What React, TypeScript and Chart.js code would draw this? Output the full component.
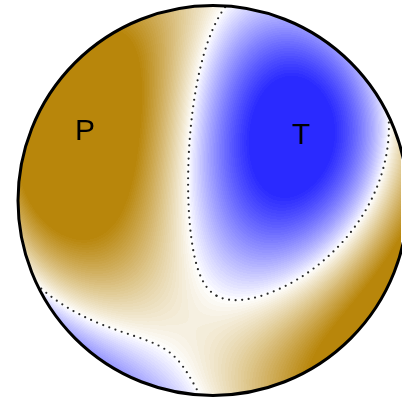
import React, { useEffect, useRef } from "react";
import { Chart, registerables } from "chart.js";

Chart.register(...registerables);

// Principal axes of the moment tensor, lower hemisphere (degrees)
const axisNames = ["T", "N", "P"];
const axisAzimuth = [51.0, 189.5, 296.7];
const axisPlunge = [46.3, 35.6, 22.5];
const eigenValues = [1.0, -0.086, -1.32];
const labelledAxes = ["P", "T"];

// Colour ramp end points: tension (positive) and pressure (negative)
const tensionRGB = [42, 42, 255];
const pressureRGB = [184, 134, 11];
const colourLimit = 0.8; // |amplitude| at which the ramp saturates
const colourGamma = 0.9;
const colourLevels = 40;

// Net geometry on the 402 px canvas
const SIZE = 402;
const CENTER_X = 213;
const CENTER_Y = 200.5;
const RADIUS = 196;
const DOT_SPACING = 6.6 / RADIUS;

type V3 = [number, number, number];

const dot = (a: V3, b: V3) => a[0] * b[0] + a[1] * b[1] + a[2] * b[2];
const norm = (a: V3): V3 => {
  const l = Math.hypot(a[0], a[1], a[2]);
  return [a[0] / l, a[1] / l, a[2] / l];
};
const cross = (a: V3, b: V3): V3 => [
  a[1] * b[2] - a[2] * b[1],
  a[2] * b[0] - a[0] * b[2],
  a[0] * b[1] - a[1] * b[0],
];

// (north, east, down) unit vector from azimuth / plunge
function axisVector(az: number, pl: number): V3 {
  const a = (az * Math.PI) / 180;
  const p = (pl * Math.PI) / 180;
  return [Math.cos(p) * Math.cos(a), Math.cos(p) * Math.sin(a), Math.sin(p)];
}

const iT = axisNames.indexOf("T");
const iN = axisNames.indexOf("N");
const iP = axisNames.indexOf("P");
const tAxis = norm(axisVector(axisAzimuth[iT], axisPlunge[iT]));
const pRaw = axisVector(axisAzimuth[iP], axisPlunge[iP]);
const pd = dot(pRaw, tAxis);
const pAxis = norm([pRaw[0] - pd * tAxis[0], pRaw[1] - pd * tAxis[1], pRaw[2] - pd * tAxis[2]]);
let nAxis = norm(cross(tAxis, pAxis));
if (dot(nAxis, axisVector(axisAzimuth[iN], axisPlunge[iN])) < 0) {
  nAxis = [-nAxis[0], -nAxis[1], -nAxis[2]];
}
const lamT = eigenValues[iT];
const lamN = eigenValues[iN];
const lamP = eigenValues[iP];

// P-wave radiation amplitude r·M·r
function amplitude(r: V3) {
  const a = dot(r, tAxis);
  const b = dot(r, nAxis);
  const c = dot(r, pAxis);
  return lamT * a * a + lamN * b * b + lamP * c * c;
}

// Lambert equal-area, lower hemisphere; unit radius = horizontal
function project(r: V3): { x: number; y: number } {
  let v = r;
  if (v[2] < 0) v = [-v[0], -v[1], -v[2]];
  const theta = Math.acos(Math.min(1, v[2]));
  const rho = Math.SQRT2 * Math.sin(theta / 2);
  const h = Math.hypot(v[0], v[1]);
  if (h < 1e-12) return { x: 0, y: 0 };
  return { x: (rho * v[1]) / h, y: (rho * v[0]) / h };
}

function unproject(x: number, y: number): V3 {
  const rho = Math.hypot(x, y);
  const theta = 2 * Math.asin(Math.min(1, rho / Math.SQRT2));
  if (rho < 1e-12) return [0, 0, 1];
  const s = Math.sin(theta);
  return [(s * y) / rho, (s * x) / rho, Math.cos(theta)];
}

// Evenly spaced dots along the nodal cone r·M·r = 0 around the T axis
function nodalDots() {
  const out: { x: number; y: number }[] = [];
  const steps = 8000;
  let prev: { x: number; y: number } | null = null;
  let acc = 0;
  for (let i = 0; i < steps; i++) {
    const phi = (2 * Math.PI * i) / steps;
    const c = Math.cos(phi);
    const s = Math.sin(phi);
    const t = Math.sqrt(Math.max(0, -(lamN * c * c + lamP * s * s) / lamT));
    const r = norm([
      t * tAxis[0] + c * nAxis[0] + s * pAxis[0],
      t * tAxis[1] + c * nAxis[1] + s * pAxis[1],
      t * tAxis[2] + c * nAxis[2] + s * pAxis[2],
    ]);
    const q = project(r);
    if (!prev || Math.hypot(q.x - prev.x, q.y - prev.y) > 0.3) {
      out.push(q);
      acc = 0;
    } else {
      acc += Math.hypot(q.x - prev.x, q.y - prev.y);
      if (acc >= DOT_SPACING) {
        out.push(q);
        acc -= DOT_SPACING;
      }
    }
    prev = q;
  }
  return out;
}

function rampColour(a: number): [number, number, number] {
  const end = a >= 0 ? tensionRGB : pressureRGB;
  let t = Math.min(1, Math.abs(a) / colourLimit);
  t = Math.pow(t, colourGamma);
  t = Math.round(t * colourLevels) / colourLevels;
  return [
    Math.round(255 + (end[0] - 255) * t),
    Math.round(255 + (end[1] - 255) * t),
    Math.round(255 + (end[2] - 255) * t),
  ];
}

// Shaded radiation field inside the unit circle, outline and axis letters
const fieldPlugin = {
  id: "radiationField",
  beforeDatasetsDraw(chart: any) {
    const { ctx, chartArea, scales } = chart;
    const xs = scales.x;
    const ys = scales.y;
    const left = Math.floor(chartArea.left);
    const top = Math.floor(chartArea.top);
    const w = Math.ceil(chartArea.right) - left;
    const h = Math.ceil(chartArea.bottom) - top;
    const off = document.createElement("canvas");
    off.width = w;
    off.height = h;
    const octx = off.getContext("2d")!;
    const img = octx.createImageData(w, h);
    for (let py = 0; py < h; py++) {
      const y = ys.getValueForPixel(top + py + 0.5);
      for (let px = 0; px < w; px++) {
        const x = xs.getValueForPixel(left + px + 0.5);
        if (x * x + y * y > 1) continue;
        const [r, g, b] = rampColour(amplitude(unproject(x, y)));
        const k = (py * w + px) * 4;
        img.data[k] = r;
        img.data[k + 1] = g;
        img.data[k + 2] = b;
        img.data[k + 3] = 255;
      }
    }
    octx.putImageData(img, 0, 0);
    ctx.save();
    ctx.beginPath();
    const cx = xs.getPixelForValue(0);
    const cy = ys.getPixelForValue(0);
    const rad = xs.getPixelForValue(1) - cx;
    ctx.arc(cx, cy, rad, 0, Math.PI * 2);
    ctx.clip();
    ctx.drawImage(off, left, top);
    ctx.restore();
  },
  afterDatasetsDraw(chart: any) {
    const { ctx, scales } = chart;
    const cx = scales.x.getPixelForValue(0);
    const cy = scales.y.getPixelForValue(0);
    const rad = scales.x.getPixelForValue(1) - cx;
    ctx.save();
    ctx.beginPath();
    ctx.arc(cx, cy, rad, 0, Math.PI * 2);
    ctx.lineWidth = 3;
    ctx.strokeStyle = "#000";
    ctx.stroke();
    ctx.restore();

    // axis letters, left-aligned on the axis point
    const meta = chart.getDatasetMeta(1);
    ctx.save();
    ctx.font = "30px 'Liberation Sans', Arial, sans-serif";
    ctx.fillStyle = "#000";
    ctx.textAlign = "left";
    ctx.textBaseline = "alphabetic";
    meta.data.forEach((el: any, i: number) => {
      ctx.fillText(labelledAxes[i], el.x - 1, el.y + 8.5);
    });
    ctx.restore();
  },
};

export default function App() {
  const ref = useRef<HTMLCanvasElement>(null);

  useEffect(() => {
    if (!ref.current) return;
    const axisPoints = labelledAxes.map((name) => {
      const i = axisNames.indexOf(name);
      return project(axisVector(axisAzimuth[i], axisPlunge[i]));
    });
    const chart = new Chart(ref.current, {
      type: "scatter",
      data: {
        datasets: [
          {
            label: "nodal line",
            data: nodalDots(),
            pointRadius: 1.1,
            pointHoverRadius: 1.1,
            backgroundColor: "#2a2a2a",
            borderWidth: 0,
          },
          {
            label: "axes",
            data: axisPoints,
            pointRadius: 0,
            pointHoverRadius: 0,
          },
        ],
      },
      options: {
        animation: false,
        responsive: false,
        maintainAspectRatio: false,
        events: [],
        layout: { padding: 0 },
        plugins: {
          legend: { display: false },
          tooltip: { enabled: false },
          title: { display: false },
        },
        scales: {
          x: {
            type: "linear",
            display: false,
            min: -CENTER_X / RADIUS,
            max: (SIZE - CENTER_X) / RADIUS,
          },
          y: {
            type: "linear",
            display: false,
            min: -(SIZE - CENTER_Y) / RADIUS,
            max: CENTER_Y / RADIUS,
          },
        },
      },
      plugins: [fieldPlugin],
    });
    return () => chart.destroy();
  }, []);

  return (
    <div style={{ position: "fixed", left: 0, top: 0, width: SIZE, height: SIZE, background: "#fff" }}>
      <canvas ref={ref} width={SIZE} height={SIZE} />
    </div>
  );
}
